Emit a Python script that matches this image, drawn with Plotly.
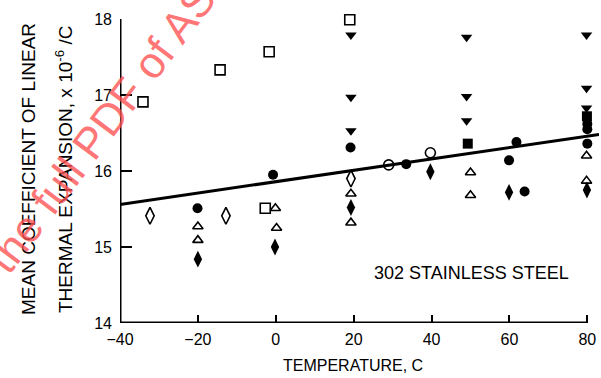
import plotly.graph_objects as go

# ---- data ----
open_sq_x = [-34.1, -14.3, -1.7, -2.7, 19.0]
open_sq_y = [16.91, 17.33, 17.57, 15.51, 17.99]

open_dia_x = [-32.3, -12.8, 19.3]
open_dia_y = [15.41, 15.41, 15.90]

fill_circ_x = [-20.1, -0.7, 19.2, 33.5, 59.9, 61.8, 63.9, 80.0, 80.0, 80.0]
fill_circ_y = [15.51, 15.95, 16.31, 16.09, 16.14, 16.38, 15.73, 16.36, 16.62, 16.55]

open_tri_x = [-20.0, -20.0, -0.1, 0.2, 19.3, 19.3, 50.0, 50.0, 79.8, 79.8]
open_tri_y = [15.27, 15.09, 15.51, 15.25, 15.70, 15.32, 15.98, 15.68, 16.20, 15.87]

fill_dia_x = [-20.0, -0.2, 19.3, 39.7, 59.9, 79.9]
fill_dia_y = [14.84, 15.00, 15.52, 15.99, 15.72, 15.75]

fill_tri_x = [19.3, 19.3, 19.3, 49.0, 49.0, 49.0, 79.8, 79.8, 79.8]
fill_tri_y = [17.79, 16.97, 16.53, 17.76, 16.98, 16.66, 17.79, 17.09, 16.83]

fill_sq_x = [49.3, 79.9]
fill_sq_y = [16.36, 16.72]

open_circ_x = [29.0, 39.7]
open_circ_y = [16.08, 16.24]

fit_x = [-40, 83]
fit_y = [15.56, 16.48]

x_ticks = [-40, -20, 0, 20, 40, 60, 80]
y_ticks = [14, 15, 16, 17, 18]

FONT = "Liberation Sans"
fig = go.Figure()

fig.add_trace(go.Scatter(x=fit_x, y=fit_y, mode="lines",
                         line=dict(color="black", width=3), cliponaxis=False))

def add(xs, ys, symbol, size, lw=1.6):
    fig.add_trace(go.Scatter(
        x=xs, y=ys, mode="markers", cliponaxis=False,
        marker=dict(symbol=symbol, size=size, color="black",
                    line=dict(color="black", width=lw))))

add(open_sq_x, open_sq_y, "square-open", 10)
add(open_dia_x, open_dia_y, "diamond-tall-open", 12)
add(fill_circ_x, fill_circ_y, "circle", 10, 0)
add(open_tri_x, open_tri_y, "triangle-up-open", 9)
add(fill_dia_x, fill_dia_y, "diamond-tall", 12, 0)
add(fill_tri_x, fill_tri_y, "triangle-down", 10, 0)
add(fill_sq_x, fill_sq_y, "square", 10, 0)
add(open_circ_x, open_circ_y, "circle-open", 10)

# axis lines (L-shaped frame ending at 80)
fig.add_shape(type="line", x0=-40, x1=80, y0=14, y1=14, xref="x", yref="y",
              line=dict(color="black", width=3))
fig.add_shape(type="line", x0=-40, x1=-40, y0=14, y1=18, xref="x", yref="y",
              line=dict(color="black", width=3))

fig.update_layout(
    width=601, height=378, autosize=False,
    margin=dict(l=120, r=2, t=19, b=55, autoexpand=False),
    paper_bgcolor="white", plot_bgcolor="white",
    showlegend=False,
    font=dict(family=FONT, color="black"),
    xaxis=dict(range=[-40, 83], tickvals=x_ticks, ticks="inside", ticklen=8,
               tickwidth=2, tickcolor="black", showgrid=False, zeroline=False,
               showline=False, automargin=False, ticklabelstandoff=5,
               tickfont=dict(size=16, family=FONT)),
    yaxis=dict(range=[14, 18], tickvals=y_ticks, ticks="inside", ticklen=12,
               tickwidth=2, tickcolor="black", showgrid=False, zeroline=False,
               showline=False, automargin=False, ticklabelstandoff=7,
               tickfont=dict(size=16, family=FONT)),
)

fig.add_annotation(text="TEMPERATURE, C", xref="paper", yref="paper",
                   x=(353 - 120) / 479, y=-(365 - 323) / 304,
                   xanchor="center", yanchor="middle", showarrow=False,
                   font=dict(size=16, family=FONT))
fig.add_annotation(text="MEAN COEFFICIENT OF LINEAR", xref="paper", yref="paper",
                   x=(28 - 120) / 479, y=(323 - 169) / 304, textangle=-90,
                   xanchor="center", yanchor="middle", showarrow=False,
                   font=dict(size=19, family=FONT))
fig.add_annotation(text="THERMAL EXPANSION, x 10<sup>-6</sup> /C", xref="paper", yref="paper",
                   x=(64 - 120) / 479, y=(323 - 170) / 304, textangle=-90,
                   xanchor="center", yanchor="middle", showarrow=False,
                   font=dict(size=19, family=FONT))
fig.add_annotation(text="302 STAINLESS STEEL", xref="x", yref="y",
                   x=50.2, y=14.66, xanchor="center", yanchor="middle",
                   showarrow=False, font=dict(size=18, family=FONT))

# red diagonal watermark
fig.add_annotation(text="the full PDF of ASME", xref="paper", yref="paper",
                   x=(120 - 120) / 479, y=(323 - 102) / 304, textangle=-53,
                   xanchor="center", yanchor="middle", showarrow=False,
                   font=dict(size=44, family=FONT, color="rgba(255,80,80,0.8)"))

fig.write_html("out.html", config={"displayModeBar": False},
               post_script="document.body.style.margin='0';"
                           "document.body.style.overflow='hidden';")
